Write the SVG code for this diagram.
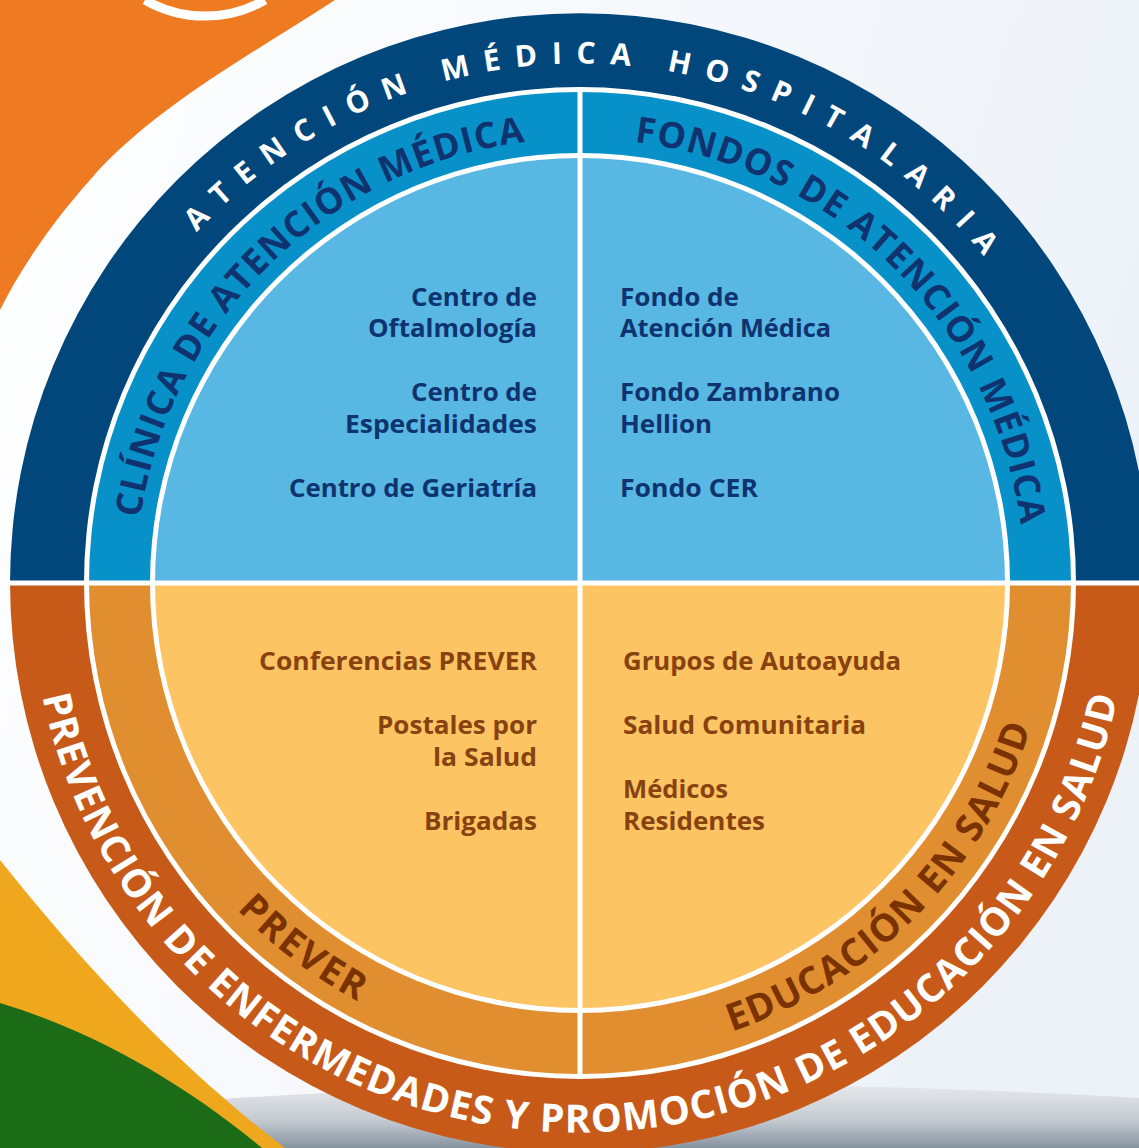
<svg xmlns="http://www.w3.org/2000/svg" width="1139" height="1148" viewBox="0 0 1139 1148">
<defs>
  <linearGradient id="bg" x1="0" y1="0" x2="1" y2="0.3">
    <stop offset="0" stop-color="#FFFFFF"/>
    <stop offset="1" stop-color="#EDF2F9"/>
  </linearGradient>
  <linearGradient id="floor" x1="0" y1="0" x2="0" y2="1">
    <stop offset="0" stop-color="#E6E9EC"/>
    <stop offset="0.55" stop-color="#C6CCD3"/>
    <stop offset="1" stop-color="#8793A0"/>
  </linearGradient>
  <path id="pTopOuter" d="M60.5,583 A519.5,519.5 0 0 1 1099.5,583"/>
  <path id="pTopMid" d="M135.5,583 A444.5,444.5 0 0 1 1024.5,583"/>
  <path id="pBotOuter" d="M30.5,583 A549.5,549.5 0 0 0 1129.5,583"/>
  <path id="pBotMid" d="M106.5,583 A473.5,473.5 0 0 0 1053.5,583"/>
</defs>
<style>
  .arc { font-family: "Open Sans", "Liberation Sans", sans-serif; font-weight: 700; }
  .item { font-family: "Open Sans", "Liberation Sans", sans-serif; font-weight: 700; font-size: 25px; }
  .blue { fill: #0E336E; }
  .brown { fill: #88420F; }
  .sep { stroke: #FFFFFF; stroke-width: 5; fill: none; }
</style>

<g id="background">
  <rect x="0" y="0" width="1139" height="1148" fill="url(#bg)"/>
  <path d="M150,1104 Q 620,1068 1139,1098 L1139,1148 L150,1148 Z" fill="url(#floor)"/>
  <path d="M0,0 L335,0 C 250,55 150,110 90,180 C 50,225 20,270 0,310 Z" fill="#EE7B22"/>
  <path d="M145,0 A 120,120 0 0 0 265,0" fill="none" stroke="#FFFFFF" stroke-width="9"/>
  <path d="M0,860 C 80,960 170,1060 285,1148 L0,1148 Z" fill="#EFA81E"/>
  <path d="M0,1003 C 90,1030 180,1080 262,1148 L0,1148 Z" fill="#1C6B17"/>
</g>

<g id="outer-ring">
  <path d="M10,583 A570,570 0 0 1 1150,583 Z" fill="#02477B"/>
  <path d="M10,583 A570,570 0 0 0 1150,583 Z" fill="#C75A18"/>
  <circle cx="580" cy="583" r="496" fill="#FFFFFF"/>
</g>

<g id="middle-ring">
  <path d="M89,583 A491,491 0 0 1 1071,583 Z" fill="#0891C9"/>
  <path d="M89,583 A491,491 0 0 0 1071,583 Z" fill="#E08E30"/>
  <circle cx="580" cy="583" r="430" fill="#FFFFFF"/>
</g>

<g id="core">
  <path d="M155,583 A425,425 0 0 1 1005,583 Z" fill="#58B7E3"/>
  <path d="M155,583 A425,425 0 0 0 1005,583 Z" fill="#FDC464"/>
</g>

<g id="separators">
  <line class="sep" x1="0" y1="583" x2="1139" y2="583"/>
  <line class="sep" x1="580" y1="87" x2="580" y2="1079"/>
</g>

<g id="label-atencion-hospitalaria">
  <text class="arc" font-size="30" letter-spacing="14.3" fill="#FFFFFF" text-anchor="middle"><textPath href="#pTopOuter" startOffset="51.4%">ATENCIÓN MÉDICA HOSPITALARIA</textPath></text>
</g>
<g id="label-clinica">
  <text class="arc blue" font-size="36" letter-spacing="1.2" text-anchor="middle"><textPath href="#pTopMid" startOffset="25.4%">CLÍNICA DE ATENCIÓN MÉDICA</textPath></text>
</g>
<g id="label-fondos">
  <text class="arc blue" font-size="36" letter-spacing="1.2" text-anchor="middle"><textPath href="#pTopMid" startOffset="74.9%">FONDOS DE ATENCIÓN MÉDICA</textPath></text>
</g>
<g id="label-prevencion">
  <text class="arc" font-size="39" letter-spacing="1.1" fill="#FFFFFF" text-anchor="middle"><textPath href="#pBotOuter" startOffset="50%">PREVENCIÓN DE ENFERMEDADES Y PROMOCIÓN DE EDUCACIÓN EN SALUD</textPath></text>
</g>
<g id="label-prever">
  <text class="arc" font-size="38" letter-spacing="2.2" fill="#7A3300" text-anchor="middle"><textPath href="#pBotMid" startOffset="29.4%">PREVER</textPath></text>
</g>
<g id="label-educacion">
  <text class="arc" font-size="38" letter-spacing="1.1" fill="#7A3300" text-anchor="middle"><textPath href="#pBotMid" startOffset="75.3%">EDUCACIÓN EN SALUD</textPath></text>
</g>

<g id="quadrant-clinica">
  <text class="item blue" x="411" y="306" textLength="126" lengthAdjust="spacingAndGlyphs">Centro de</text>
  <text class="item blue" x="368" y="337" textLength="169" lengthAdjust="spacingAndGlyphs">Oftalmología</text>
  <text class="item blue" x="411" y="401" textLength="126" lengthAdjust="spacingAndGlyphs">Centro de</text>
  <text class="item blue" x="345" y="433" textLength="192" lengthAdjust="spacingAndGlyphs">Especialidades</text>
  <text class="item blue" x="289" y="497" textLength="248" lengthAdjust="spacingAndGlyphs">Centro de Geriatría</text>
</g>
<g id="quadrant-fondos">
  <text class="item blue" x="620" y="306" textLength="119" lengthAdjust="spacingAndGlyphs">Fondo de</text>
  <text class="item blue" x="620" y="337" textLength="211" lengthAdjust="spacingAndGlyphs">Atención Médica</text>
  <text class="item blue" x="620" y="401" textLength="220" lengthAdjust="spacingAndGlyphs">Fondo Zambrano</text>
  <text class="item blue" x="620" y="433" textLength="92" lengthAdjust="spacingAndGlyphs">Hellion</text>
  <text class="item blue" x="620" y="497" textLength="138" lengthAdjust="spacingAndGlyphs">Fondo CER</text>
</g>
<g id="quadrant-prever">
  <text class="item brown" x="259" y="670" textLength="278" lengthAdjust="spacingAndGlyphs">Conferencias PREVER</text>
  <text class="item brown" x="377" y="734" textLength="160" lengthAdjust="spacingAndGlyphs">Postales por</text>
  <text class="item brown" x="433" y="766" textLength="104" lengthAdjust="spacingAndGlyphs">la Salud</text>
  <text class="item brown" x="424" y="830" textLength="113" lengthAdjust="spacingAndGlyphs">Brigadas</text>
</g>
<g id="quadrant-educacion">
  <text class="item brown" x="623" y="670" textLength="278" lengthAdjust="spacingAndGlyphs">Grupos de Autoayuda</text>
  <text class="item brown" x="623" y="734" textLength="243" lengthAdjust="spacingAndGlyphs">Salud Comunitaria</text>
  <text class="item brown" x="623" y="798" textLength="105" lengthAdjust="spacingAndGlyphs">Médicos</text>
  <text class="item brown" x="623" y="830" textLength="142" lengthAdjust="spacingAndGlyphs">Residentes</text>
</g>
</svg>
